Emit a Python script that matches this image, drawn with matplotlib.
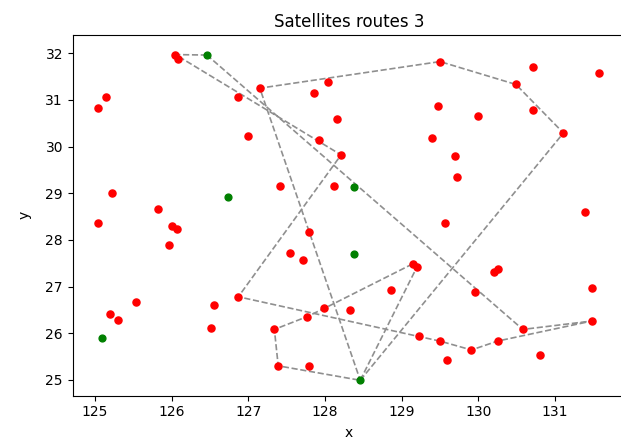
import numpy as np
import matplotlib
matplotlib.use('Agg')
import matplotlib.pyplot as plt

# customers (red)
cust_x = [126.05, 126.08, 127.15, 126.87, 125.15, 125.04, 127.00, 125.22, 125.82, 125.04,
          126.01, 126.07, 125.96, 125.54, 125.20, 125.30, 126.55, 126.51, 126.87, 128.04,
          127.86, 129.50, 128.16, 127.92, 128.21, 129.48, 129.39, 129.69, 129.72, 127.41,
          128.12, 130.71, 131.57, 130.49, 130.00, 130.71, 131.11, 131.39, 129.56, 127.79,
          127.54, 127.71, 129.15, 129.20, 128.86, 127.99, 128.33, 127.76, 127.34, 127.39,
          127.79, 129.22, 129.50, 129.59, 130.21, 130.26, 129.95, 131.48, 131.48, 130.58,
          130.25, 129.91, 130.81]
cust_y = [31.97, 31.87, 31.25, 31.07, 31.07, 30.83, 30.22, 29.01, 28.66, 28.37,
          28.30, 28.23, 27.88, 26.67, 26.42, 26.28, 26.60, 26.10, 26.78, 31.39,
          31.14, 31.82, 30.58, 30.15, 29.82, 30.86, 30.19, 29.80, 29.35, 29.16,
          29.16, 31.71, 31.57, 31.33, 30.65, 30.79, 30.29, 28.59, 28.37, 28.16,
          27.71, 27.56, 27.49, 27.42, 26.92, 26.53, 26.49, 26.35, 26.08, 25.30,
          25.30, 25.93, 25.83, 25.43, 27.32, 27.38, 26.88, 26.96, 26.26, 26.08,
          25.83, 25.64, 25.54]

# satellites (green)
sat_x = [126.46, 126.74, 128.38, 128.38, 125.09, 128.46]
sat_y = [31.96, 28.92, 29.13, 27.70, 25.90, 24.99]

# routes (closed tours starting at a satellite)
route1_x = [128.46, 129.20, 129.15, 127.99, 127.76, 127.34, 127.39, 128.46]
route1_y = [24.99, 27.42, 27.49, 26.53, 26.35, 26.08, 25.30, 24.99]

route2_x = [126.46, 126.05, 128.21, 126.87, 129.22, 129.50, 129.91, 130.25, 131.48, 130.58, 126.46]
route2_y = [31.96, 31.97, 29.82, 26.78, 25.93, 25.83, 25.64, 25.83, 26.26, 26.08, 31.96]

route3_x = [128.46, 131.11, 130.49, 129.50, 127.15, 128.46]
route3_y = [24.99, 30.29, 31.33, 31.82, 31.25, 24.99]

fig = plt.figure(figsize=(6.21, 4.44), dpi=100)
ax = fig.add_axes([0.1171, 0.1088, 0.889, 0.8124])

for rx, ry in [(route1_x, route1_y), (route2_x, route2_y), (route3_x, route3_y)]:
    ax.plot(rx, ry, '--', color='#8f8f8f', lw=1.2, zorder=1)

ax.scatter(cust_x, cust_y, s=26, color='red', zorder=2)
ax.scatter(sat_x, sat_y, s=24, color='green', zorder=3)

ax.set_xlim(124.71, 131.91)
ax.set_ylim(24.66, 32.39)
ax.set_xticks(np.arange(125, 132))
ax.set_yticks(np.arange(25, 33))
ax.set_title('Satellites routes 3', fontsize=12)
ax.set_xlabel('x', labelpad=5)
ax.set_ylabel('y', labelpad=10)

fig.savefig('out.png', dpi=100)
